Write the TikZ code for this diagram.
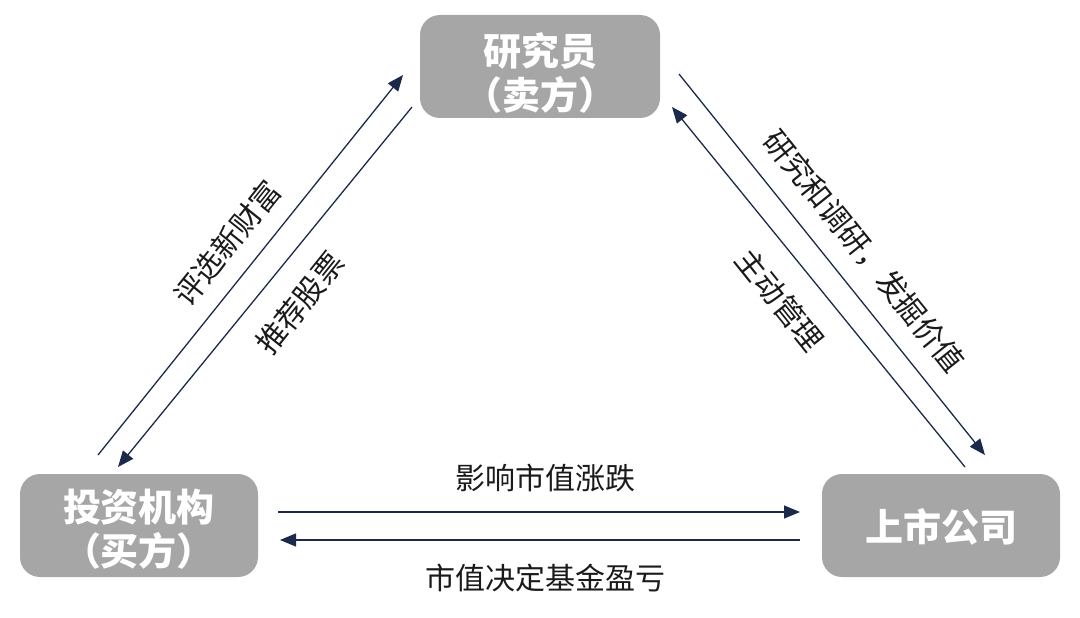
\documentclass[tikz,border=0pt]{standalone}
\usepackage{fontspec}
\setmainfont{Noto Sans CJK SC}
\usetikzlibrary{arrows.meta}
\definecolor{boxgray}{HTML}{A6A6A6}
\definecolor{navy}{HTML}{1B2A4A}
\definecolor{txt}{HTML}{1A1A1A}
\begin{document}
\begin{tikzpicture}[x=1pt,y=-1pt,
  box/.style={fill=boxgray, rounded corners=20pt, text=white, align=center,
    inner sep=0pt, minimum height=103pt,
    font=\bfseries\fontsize{38}{44}\selectfont},
  conn/.style={draw=navy, line width=1.3pt, -{Triangle[length=16pt,width=13pt]}},
  lbl/.style={font=\fontsize{30}{36}\selectfont, text=txt, inner sep=0pt}]
\useasboundingbox (0,0) rectangle (1080,618);
% boxes
\node[box, minimum width=240pt] (res) at (540,66.5) {\rule{0pt}{46pt}研究员\\（卖方）};
\node[box, minimum width=238pt] (inv) at (139,525.5) {\rule{0pt}{40pt}投资机构\\（买方）};
\node[box, minimum width=238pt] (com) at (941,525.5) {\rule{0pt}{36pt}上市公司};
% connector end points
\coordinate (p1s) at (98,455);  \coordinate (p1e) at (403,75);
\coordinate (p2s) at (412,107); \coordinate (p2e) at (118,467);
\coordinate (p3s) at (679,74);  \coordinate (p3e) at (985,455);
\coordinate (p4s) at (965,467); \coordinate (p4e) at (672,107);
\coordinate (h1s) at (278,512); \coordinate (h1e) at (800,512);
\coordinate (h2s) at (800,540); \coordinate (h2e) at (280,540);
% connectors
\draw[conn] (p1s) -- (p1e);
\draw[conn] (p2s) -- (p2e);
\draw[conn] (p3s) -- (p3e);
\draw[conn] (p4s) -- (p4e);
\draw[conn] (h1s) -- (h1e);
\draw[conn] (h2s) -- (h2e);
% labels
\node[lbl, rotate=51.3] (l1) at (227,243) {评选新财富};
\node[lbl, rotate=51.3] (l2) at (300,303) {推荐股票};
\node[lbl, rotate=-51.2] (l3) at (864,251) {研究和调研，发掘价值};
\node[lbl, rotate=-51.2] (l4) at (780,300) {主动管理};
\node[lbl] (l5) at (545,478) {影响市值涨跌};
\node[lbl] (l6) at (545,578) {市值决定基金盈亏};
\end{tikzpicture}
\end{document}
